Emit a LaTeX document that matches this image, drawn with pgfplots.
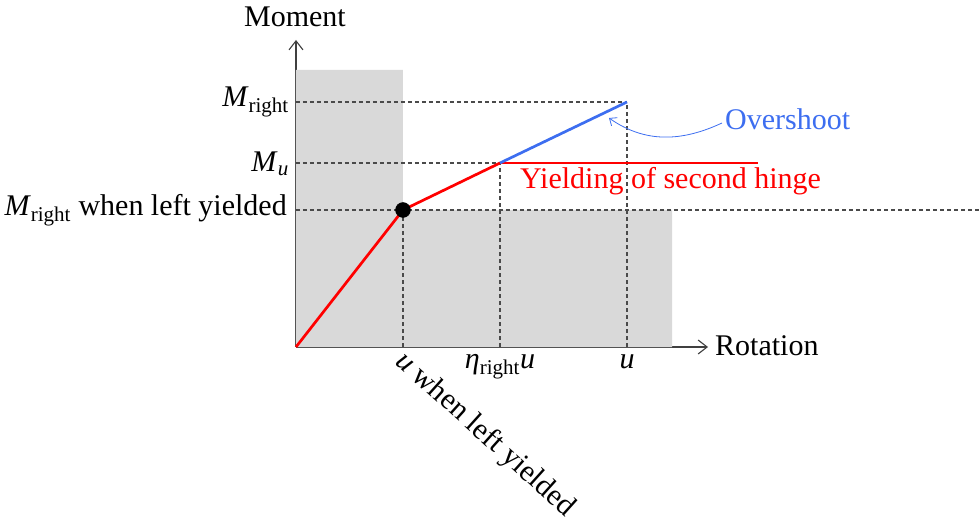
\documentclass[border=0pt]{standalone}
\usepackage{fontspec}
\setmainfont{Liberation Serif}
\usepackage{pgfplots}
\pgfplotsset{compat=1.18}
\usetikzlibrary{arrows.meta}
\definecolor{shade}{HTML}{D9D9D9}
\definecolor{guidegray}{HTML}{4A4A4A}
\definecolor{axisgray}{HTML}{404040}
\definecolor{overblue}{HTML}{3D6EF0}

\begin{document}
\begin{tikzpicture}[every node/.style={font=\fontsize{30}{36}\selectfont}]
\begin{axis}[
  x=1pt, y=1pt,
  xmin=0, xmax=412, ymin=0, ymax=307,
  axis lines=left,
  axis line style={axisgray, line width=1.2pt,
    -{Straight Barb[length=9pt,width=14pt,line width=1.1pt]}},
  xtick=\empty, ytick=\empty,
  clip=false,
  guideline/.style={guidegray, line width=1.2pt, dash pattern=on 4pt off 3pt},
]
% shaded admissible region
\addplot[fill=shade, draw=none] coordinates
  {(0,0) (0,277) (107,277) (107,137) (376,137) (376,0)} \closedcycle;

% guide lines
\addplot[guideline] coordinates {(0,245) (331,245)};
\addplot[guideline] coordinates {(0,184) (204,184)};
\addplot[guideline] coordinates {(0,137) (683,137)};
\addplot[guideline] coordinates {(107,0) (107,137)};
\addplot[guideline] coordinates {(204,0) (204,184)};
\addplot[guideline] coordinates {(331,0) (331,245)};

% moment-rotation path
\addplot[red, line width=2.7pt] coordinates {(0,0) (107,137) (204,184)};
\addplot[red, line width=2.7pt] coordinates {(204,184) (462,184)};
\addplot[overblue, line width=2.7pt] coordinates {(204,184) (331,245)};
\addplot[only marks, mark=*, mark size=7.5pt, black] coordinates {(107,137)};

% axis titles
\node[anchor=base] at (axis cs:-1,320) {Moment};
\node[anchor=base west, inner sep=0pt] at (axis cs:419,-8) {Rotation};

% moment levels
\node[anchor=east, inner sep=0pt] at (axis cs:-7,245) {\textit{M}\textsubscript{right}};
\node[anchor=east, inner sep=0pt] at (axis cs:-7,183) {\textit{M}\textsubscript{\textit{u}}};
\node[anchor=east, inner sep=0pt] at (axis cs:-9,137) {\textit{M}\textsubscript{right} when left yielded};

% rotation levels
\node[anchor=base west, inner sep=0pt, rotate=-42] at (axis cs:98,-16) {\textit{u} when left yielded};
\node[anchor=base, inner sep=0pt] at (axis cs:204,-21) {\textit{η}\textsubscript{right}\textit{u}};
\node[anchor=base, inner sep=0pt] at (axis cs:331,-21) {\textit{u}};

% annotations
\node[anchor=base west, inner sep=0pt, text=overblue] at (axis cs:429,217) {Overshoot};
\draw[overblue, line width=0.8pt, -{Straight Barb[length=6pt,width=10pt,line width=0.8pt]}]
  (axis cs:426,224) to[out=205, in=-35] (axis cs:313,229);
\node[anchor=base west, inner sep=0pt, text=red] at (axis cs:224,158) {Yielding of second hinge};

\coordinate (O) at (axis cs:0,0);
\end{axis}
\pgfresetboundingbox
\path (O) ++(-296pt,-177pt) rectangle ++(979pt,524pt);
\end{tikzpicture}
\end{document}
